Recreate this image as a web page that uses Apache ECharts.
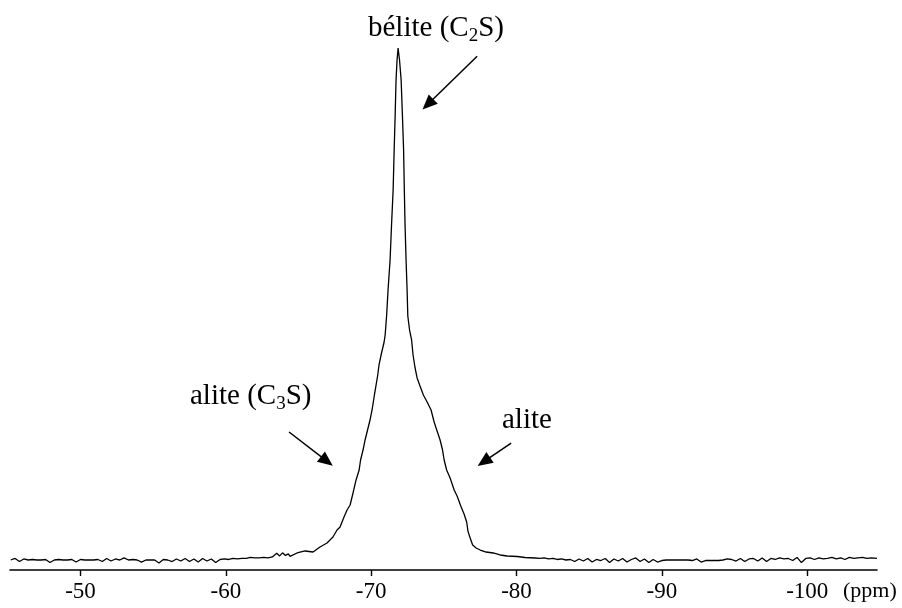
<!DOCTYPE html>
<html>
<head>
<meta charset="utf-8">
<script src="https://cdn.jsdelivr.net/npm/echarts@6/dist/echarts.min.js"></script>
<style>
html,body{margin:0;padding:0;background:#fff;}
#chart{width:902px;height:608px;}
</style>
</head>
<body>
<div id="chart"></div>
<script>
// x tick labels (ppm)
const tickValues = [-50, -60, -70, -80, -90, -100];

// left baseline (ppm, intensity)
const leftBasePpm = [-45.2,-45.5,-45.8,-46.1,-46.4,-46.7,-47.0,-47.3,-47.6,-47.9,-48.2,-48.5,-48.8,-49.1,-49.4,-49.7,-50.0,-50.3,-50.6,-50.9,-51.2,-51.5,-51.8,-52.1,-52.4,-52.7,-53.0,-53.3,-53.6,-53.9,-54.2,-54.5,-54.8,-55.1,-55.4,-55.7,-56.0,-56.3,-56.6,-56.9,-57.2,-57.5,-57.8,-58.1,-58.4,-58.7,-59.0,-59.3,-59.6,-59.9,-60.2,-60.5,-60.8,-61.1,-61.4,-61.7,-62.0,-62.3,-62.6,-62.9,-63.2,-63.5,-63.7,-63.9,-64.1,-64.3];
const leftBaseInt = [0.0,0.3,-0.3,0.2,0.0,0.1,0.0,0.0,0.1,-0.5,0.0,0.1,0.0,0.0,0.1,-0.4,0.1,0.0,0.0,0.0,0.1,-0.3,0.3,-0.2,0.2,0.0,0.4,0.0,0.1,0.0,-0.4,0.0,0.0,0.0,-0.6,0.1,0.0,-0.3,0.2,-0.2,0.3,-0.3,0.2,-0.4,0.3,-0.2,0.2,-0.5,0.1,0.2,0.1,0.3,0.2,0.3,0.3,0.5,0.4,0.4,0.5,0.4,0.6,1.3,0.8,1.4,0.9,1.2];

// main resonance region (ppm, intensity)
const peakPpm = [-64.42,-64.90,-65.45,-66.00,-66.48,-66.96,-67.37,-67.65,-67.86,-68.13,-68.34,-68.55,-68.75,-68.96,-69.17,-69.27,-69.44,-69.58,-69.75,-69.92,-70.06,-70.20,-70.44,-70.54,-70.68,-70.89,-70.96,-71.06,-71.16,-71.30,-71.40,-71.51,-71.58,-71.64,-71.71,-71.78,-71.85,-71.95,-72.06,-72.16,-72.23,-72.28,-72.33,-72.40,-72.47,-72.52,-72.64,-72.78,-72.88,-73.02,-73.16,-73.36,-73.59,-73.85,-74.12,-74.33,-74.51,-74.74,-74.91,-75.02,-75.19,-75.43,-75.71,-75.91,-76.19,-76.39,-76.57,-76.66,-76.81,-76.98,-77.22,-77.50,-77.91,-78.39,-78.87,-79.35,-80.04,-80.59,-81.28];
const peakInt = [0.7,1.37,1.76,1.56,2.54,3.32,4.49,5.86,6.45,8.40,9.77,10.74,13.09,15.63,17.58,19.53,21.48,23.44,25.39,27.34,29.30,31.84,35.94,38.09,40.04,42.58,43.95,47.66,52.73,58.59,65.43,72.27,80.08,85.94,93.75,97.66,100,97.66,93.75,85.94,80.08,72.27,65.43,58.59,52.73,47.66,44.92,42.97,40.04,37.50,35.55,33.98,32.23,30.86,29.30,26.95,25.39,23.44,21.48,19.53,17.58,16.02,13.67,12.50,10.35,8.98,7.42,5.60,4.30,2.93,2.34,1.95,1.56,1.37,0.98,0.78,0.68,0.49,0.39];

// right baseline (ppm, intensity)
const rightBasePpm = [-81.6,-81.9,-82.2,-82.5,-82.8,-83.1,-83.4,-83.7,-84.0,-84.3,-84.6,-84.9,-85.2,-85.5,-85.8,-86.1,-86.4,-86.7,-87.0,-87.3,-87.6,-87.9,-88.2,-88.5,-88.8,-89.1,-89.4,-89.7,-90.0,-90.3,-90.6,-90.9,-91.2,-91.5,-91.8,-92.1,-92.4,-92.7,-93.0,-93.3,-93.6,-93.9,-94.2,-94.5,-94.8,-95.1,-95.4,-95.7,-96.0,-96.3,-96.6,-96.9,-97.2,-97.5,-97.8,-98.1,-98.4,-98.7,-99.0,-99.3,-99.6,-99.9,-100.2,-100.5,-100.8,-101.1,-101.4,-101.7,-102.0,-102.3,-102.6,-102.9,-103.2,-103.5,-103.8,-104.1,-104.4,-104.8];
const rightBaseInt = [0.3,0.4,0.2,0.3,0.1,0.2,0.0,0.1,-0.3,0.2,-0.2,0.3,-0.4,0.1,-0.1,0.3,-0.5,0.2,-0.2,0.3,-0.4,0.1,0.4,-0.3,0.2,-0.5,0.1,-0.4,-0.1,0.0,0.0,0.0,0.0,0.0,0.0,-0.1,0.2,-0.4,-0.1,-0.1,-0.1,-0.1,0.0,0.2,0.1,-0.2,0.3,-0.3,0.2,0.3,-0.2,0.4,-0.3,0.3,0.1,0.4,0.2,0.3,-0.1,0.5,-0.5,0.3,0.4,0.1,0.4,0.2,0.3,0.5,0.2,0.4,0.1,0.5,0.3,0.4,0.5,0.3,0.4,0.3];

// annotation labels: [text before subscript, subscript, text after]
const annotationParts = [['bélite (C', '2', 'S)'], ['alite (C', '3', 'S)'], ['alite', '', '']];
// arrow endpoints (data coordinates: ppm, intensity)
const arrowStart = [[-77.29, 98.4], [-64.35, 25.0], [-79.63, 22.85]];
const arrowEnd = [[-73.9, 89.0], [-66.95, 19.3], [-77.75, 19.2]];

const ppmAll = leftBasePpm.concat(peakPpm, rightBasePpm);
const intAll = leftBaseInt.concat(peakInt, rightBaseInt);
const seriesData = ppmAll.map((p, i) => [p, intAll[i]]);

const FONT = '"Liberation Serif", "Times New Roman", serif';
const MAIN_SIZE = 29, SUB_SIZE = 19, SUB_SHIFT = 8.5;
const measureCtx = document.createElement('canvas').getContext('2d');
function textWidth(t, size) {
  measureCtx.font = size + 'px ' + FONT;
  return measureCtx.measureText(t).width;
}
function labelGroup(parts, left, midY) {
  const w0 = textWidth(parts[0], MAIN_SIZE);
  const w1 = textWidth(parts[1], SUB_SIZE);
  const base = {fill: '#000', textAlign: 'left', verticalAlign: 'middle', textVerticalAlign: 'middle'};
  const children = [
    {type: 'text', x: 0, y: 0, style: Object.assign({text: parts[0], font: MAIN_SIZE + 'px ' + FONT}, base)}
  ];
  if (parts[1]) {
    children.push({type: 'text', x: w0, y: SUB_SHIFT, style: Object.assign({text: parts[1], font: SUB_SIZE + 'px ' + FONT}, base)});
    children.push({type: 'text', x: w0 + w1, y: 0, style: Object.assign({text: parts[2], font: MAIN_SIZE + 'px ' + FONT}, base)});
  }
  return {type: 'group', x: left, y: midY, children: children};
}

const chart = echarts.init(document.getElementById('chart'), null, {renderer: 'canvas'});

chart.setOption({
  animation: false,
  backgroundColor: '#fff',
  grid: {left: 10, right: 25, top: 40, bottom: 38, containLabel: false},
  xAxis: {
    type: 'value',
    inverse: true,
    min: -104.8,
    max: -45.15,
    axisLine: {show: true, onZero: false, lineStyle: {color: '#000', width: 1.6}},
    axisTick: {show: true, length: 6, lineStyle: {color: '#000', width: 1.4}, customValues: tickValues},
    axisLabel: {show: true, customValues: tickValues, margin: 10, color: '#000', fontFamily: FONT, fontSize: 23},
    splitLine: {show: false}
  },
  yAxis: {
    type: 'value',
    min: -1.953,
    max: 101.5625,
    show: false,
    splitLine: {show: false}
  },
  series: [{
    type: 'line',
    data: seriesData,
    showSymbol: false,
    symbol: 'none',
    lineStyle: {color: '#000', width: 1.3},
    clip: false,
    markLine: {
      silent: true,
      symbol: ['none', 'triangle'],
      symbolSize: [13, 15],
      label: {show: false},
      lineStyle: {color: '#000', width: 1.5, type: 'solid'},
      itemStyle: {color: '#000'},
      data: arrowStart.map((s, i) => [{coord: s}, {coord: arrowEnd[i]}])
    }
  }],
  graphic: [
    labelGroup(annotationParts[0], 368, 28),
    labelGroup(annotationParts[1], 190, 396),
    labelGroup(annotationParts[2], 502, 420),
    {type: 'text', left: 843, top: 580, style: {text: '(ppm)', fontFamily: FONT, fontSize: 22, fill: '#000'}}
  ]
});
</script>
</body>
</html>
